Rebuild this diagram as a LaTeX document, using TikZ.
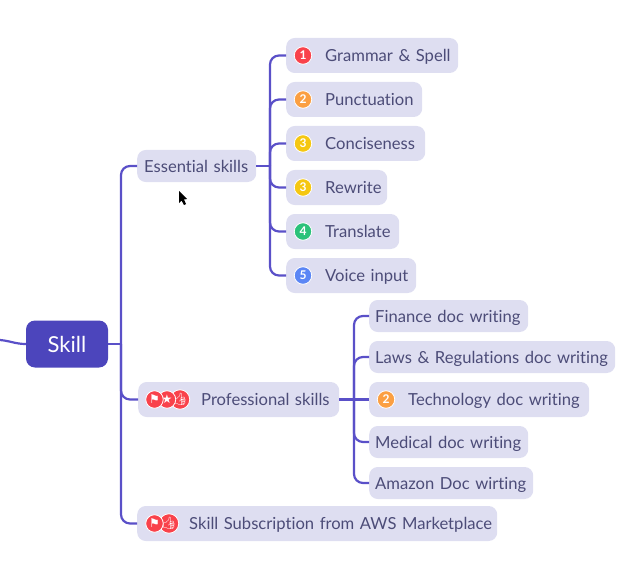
\documentclass[tikz,border=0pt]{standalone}
\usepackage{fontspec}
\setmainfont{Lato}[Ligatures=CommonOff]
\newfontfamily\symbolfont{DejaVu Sans}
\newfontfamily\emojifont{Noto Emoji}
\usetikzlibrary{positioning}
\definecolor{linkcolor}{HTML}{5A50C8}
\definecolor{rootcolor}{HTML}{4C45BC}
\definecolor{boxcolor}{HTML}{DEDEF1}
\definecolor{inkcolor}{HTML}{4C4C78}
\definecolor{badgered}{HTML}{F9424B}
\definecolor{badgeorange}{HTML}{FB9F42}
\definecolor{badgeyellow}{HTML}{F5C711}
\definecolor{badgegreen}{HTML}{2BC27A}
\definecolor{badgeblue}{HTML}{5B86F5}
\newcommand{\pad}[1]{\hspace*{#1pt}}
\begin{document}
\begin{tikzpicture}[x=1pt,y=-1pt,
  link/.style={draw=linkcolor,line width=2.2pt,rounded corners=9pt},
  topic/.style={fill=boxcolor,text=inkcolor,rounded corners=8.5pt,inner xsep=0pt,inner ysep=0pt,
    anchor=west,align=left,text width=#1,minimum height=35pt,text height=13pt,text depth=1pt,
    font=\fontsize{16.6}{18}\selectfont},
  thin topic/.style={topic=#1,minimum height=32pt},
  badge/.style={circle,fill=#1,draw=white,line width=0.8pt,minimum size=17.5pt,inner sep=0pt,
    text=white,font=\bfseries\fontsize{12}{12}\selectfont},
  marker/.style={badge=badgered,font=\symbolfont\fontsize{12}{12}\selectfont}]
  \useasboundingbox (0,0) rectangle (631,564);

  \node[fill=rootcolor,text=white,rounded corners=9pt,minimum width=82pt,minimum height=47pt,inner sep=0pt,
    font=\fontsize{22}{24}\selectfont] (skill) at (67,344) {Skill};
  \coordinate (rootend) at (0,340);
  \coordinate (skillhub) at (121,344);
  \coordinate (essentialhub) at (270,166);
  \coordinate (professionalhub) at (354,399.5);

  \node[thin topic=119pt] (essential) at (137,166) {\pad{7}Essential skills};
  \node[topic=201pt] (professional) at (138,399.5) {\pad{63}Professional skills};
  \node[topic=360pt] (subscription) at (137,523.5) {\pad{52}Skill Subscription from AWS Marketplace};

  \node[topic=172pt] (grammar) at (286,55.5) {\pad{39}Grammar \& Spell};
  \node[topic=136pt] (punctuation) at (286,99.5) {\pad{39}Punctuation};
  \node[topic=139pt] (conciseness) at (286,143.5) {\pad{39}Conciseness};
  \node[topic=101pt] (rewrite) at (286,187.5) {\pad{39}Rewrite};
  \node[topic=113pt] (translate) at (286,231.5) {\pad{39}Translate};
  \node[topic=130pt] (voice) at (286,275.5) {\pad{39}Voice input};

  \node[thin topic=159pt] (finance) at (369,316) {\pad{6}Finance doc writing};
  \node[thin topic=246pt] (laws) at (369,357) {\pad{6}Laws \& Regulations doc writing};
  \node[topic=220pt] (technology) at (369,399.5) {\pad{39}Technology doc writing};
  \node[thin topic=159pt] (medical) at (369,442) {\pad{6}Medical doc writing};
  \node[thin topic=164pt] (amazon) at (369,483) {\pad{6}Amazon Doc wirting};

  \node[badge=badgered] (badgea) at (303,55.5) {1};
  \node[badge=badgeorange] (badgeb) at (303,99.5) {2};
  \node[badge=badgeyellow] (badgec) at (303,143.5) {3};
  \node[badge=badgeyellow] (badged) at (303,187.5) {3};
  \node[badge=badgegreen] (badgee) at (303,231.5) {4};
  \node[badge=badgeblue] (badgef) at (303,275.5) {5};
  \node[badge=badgeorange] (badgeg) at (386,399.5) {2};

  \node[marker,font=\emojifont\fontsize{12}{12}\selectfont] (thumba) at (180,399.5) {👍};
  \node[marker] (stara) at (167,399.5) {★};
  \node[marker] (flaga) at (154.5,399.5) {⚑};
  \node[marker,font=\emojifont\fontsize{12}{12}\selectfont] (thumbb) at (169,523.5) {👍};
  \node[marker] (flagb) at (154.5,523.5) {⚑};

  \draw[link] (rootend) to[out=-5,in=180] (skill.west);
  \draw[link] (skill.east) -- (skillhub);
  \draw[link] (skillhub) |- (essential.west);
  \draw[link] (skillhub) |- (professional.west);
  \draw[link] (skillhub) |- (subscription.west);

  \draw[link] (essential.east) -- (essentialhub);
  \draw[link] (essentialhub) |- (grammar.west);
  \draw[link] (essentialhub) |- (punctuation.west);
  \draw[link] (essentialhub) |- (conciseness.west);
  \draw[link] (essentialhub) |- (rewrite.west);
  \draw[link] (essentialhub) |- (translate.west);
  \draw[link] (essentialhub) |- (voice.west);

  \draw[link] (professional.east) -- (professionalhub);
  \draw[link] (professionalhub) |- (finance.west);
  \draw[link] (professionalhub) |- (laws.west);
  \draw[link] (professionalhub) -- (technology.west);
  \draw[link] (professionalhub) |- (medical.west);
  \draw[link] (professionalhub) |- (amazon.west);

  \fill[black] (179,191) -- (179,203) -- (181.5,200.5) -- (184,205) -- (186,204) -- (184,199.5) -- (187,199) -- cycle;
\end{tikzpicture}
\end{document}
